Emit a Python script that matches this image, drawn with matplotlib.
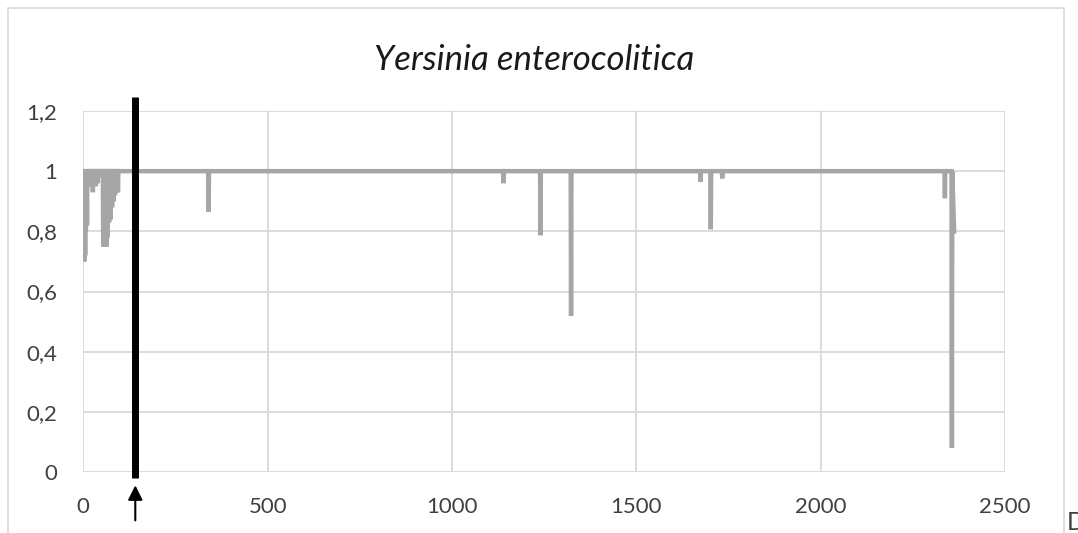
import numpy as np
import matplotlib
matplotlib.use('Agg')
import matplotlib.pyplot as plt
from matplotlib.patches import Rectangle

# valeurs
titre = 'Yersinia enterocolitica'
x_ticks = [0, 500, 1000, 1500, 2000, 2500]
y_ticks = [0, 0.2, 0.4, 0.6, 0.8, 1.0, 1.2]
y_labels = ['0', '0,2', '0,4', '0,6', '0,8', '1', '1,2']

# zone dense du début (positions et creux)
debut_x = [1, 3, 5, 7, 10, 14, 18, 22, 26, 30, 34, 38, 42, 46, 50,
           54, 57, 60, 63, 66, 70, 74, 78, 82, 86, 90, 94]
debut_y = [0.80, 0.70, 0.72, 0.80, 0.82, 0.95, 0.95, 0.96, 0.93, 0.97, 0.95, 0.96, 0.98, 0.99, 0.99,
           0.75, 0.75, 0.75, 0.75, 0.78, 0.83, 0.84, 0.88, 0.90, 0.92, 0.93, 0.93]

# creux isolés
creux_x = [142, 340, 1140, 1240, 1323, 1674, 1702, 1733, 2337, 2356]
creux_y = [0.60, 0.865, 0.96, 0.787, 0.52, 0.965, 0.807, 0.976, 0.91, 0.08]
fin_x = 2362
fin_y = 0.80

pos_barre = 141  # barre noire verticale

# construction de la série
xs, ys = [0], [1.0]
for x, y in zip(debut_x + creux_x, debut_y + creux_y):
    xs += [x - 1, x, x + 1]
    ys += [1.0, y, 1.0]
xs += [fin_x]
ys += [fin_y]

fig = plt.figure(figsize=(10.78, 5.33), dpi=100)
ax = fig.add_axes([83.3/1078, 1 - 472/533, (1005 - 83.3)/1078, (472 - 111)/533])

ax.plot(xs, ys, color='#a6a6a6', lw=3.2, solid_joinstyle='miter', zorder=3)

ax.set_xlim(0, 2500)
ax.set_ylim(0, 1.2)
ax.set_xticks(x_ticks)
ax.set_yticks(y_ticks)
ax.set_yticklabels(y_labels)
ax.grid(True, color='#d9d9d9', lw=1.3, zorder=0)
for s in ax.spines.values():
    s.set_visible(False)
ax.tick_params(length=0, labelsize=16, labelcolor='#404040')
ax.tick_params(axis='x', pad=18)
ax.tick_params(axis='y', pad=19)
for lab in ax.get_xticklabels() + ax.get_yticklabels():
    lab.set_family('Lato')

fig.text(534/1078, 1 - 60/533, titre, fontsize=25, style='italic', family='Lato',
         color='#1a1a1a', ha='center', va='center')

# barre noire et flèche
ax.plot([pos_barre, pos_barre], [-0.02, 1.245], color='black', lw=5, clip_on=False,
        solid_capstyle='butt', zorder=5)
ax.annotate('', xy=(pos_barre, -0.035), xytext=(pos_barre, -0.17),
            xycoords='data', textcoords='data', annotation_clip=False,
            arrowprops=dict(arrowstyle='-|>', color='black', lw=1.5, mutation_scale=22))

# cadre extérieur
fig.patches.append(Rectangle((8/1078, -0.05), (1064 - 8)/1078, 1.05 - 8/533,
                             transform=fig.transFigure, fill=False,
                             edgecolor='#d9d9d9', lw=1.2))
fig.text(1067/1078, 1 - 522/533, 'D', fontsize=18, family='Lato', color='#404040',
         va='center', ha='left')

fig.savefig('out.png', dpi=100)
